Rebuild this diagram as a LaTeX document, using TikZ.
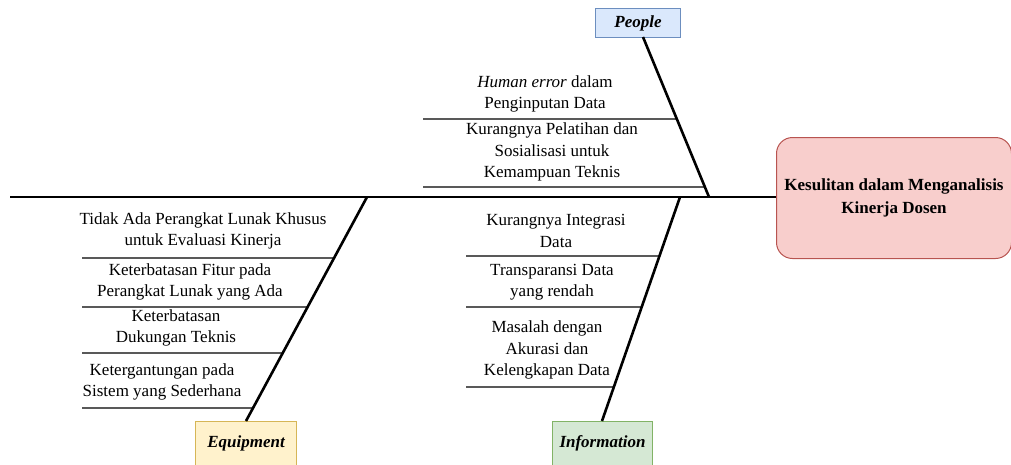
\documentclass[tikz,border=0pt]{standalone}
\usepackage{fontspec}
\setmainfont{Liberation Serif}
\usetikzlibrary{calc}
\definecolor{bluefill}{HTML}{DAE8FC}
\definecolor{bluedraw}{HTML}{6C8EBF}
\definecolor{redfill}{HTML}{F8CECC}
\definecolor{reddraw}{HTML}{B85450}
\definecolor{yelfill}{HTML}{FFF2CC}
\definecolor{yeldraw}{HTML}{D6B656}
\definecolor{grnfill}{HTML}{D5E8D4}
\definecolor{grndraw}{HTML}{82B366}
\tikzset{
  bone/.style={line width=2.6pt, black},
  sub/.style={line width=1.1pt, black},
  cat/.style={draw, line width=1pt, minimum width=#1, inner sep=0pt, font=\fontsize{17}{20}\selectfont\bfseries\itshape},
  lbl/.style={align=center, inner sep=0pt, font=\fontsize{17}{21.5}\selectfont},
}
\begin{document}
\begin{tikzpicture}[x=1pt,y=-1pt]
\useasboundingbox (0,0) rectangle (1011,464);
% effect box
\node[draw=reddraw, fill=redfill, line width=1pt, rounded corners=16pt, minimum width=235pt, minimum height=121pt, anchor=north west, align=center, inner sep=0pt, font=\fontsize{17}{23}\selectfont\bfseries] (eff) at (776,137) {Kesulitan dalam Menganalisis\\Kinerja Dosen};
% spine
\coordinate (tail) at (10,197);
\draw[bone] (tail) -- (eff.west |- 0,197);
% category boxes
\node[cat=85pt, fill=bluefill, draw=bluedraw, minimum height=29pt, anchor=north west] (people) at (595,8) {People};
\node[cat=101pt, fill=yelfill, draw=yeldraw, minimum height=44pt, anchor=north west] (equip) at (195,421) {Equipment};
\node[cat=100pt, fill=grnfill, draw=grndraw, minimum height=44pt, anchor=north west] (info) at (552,421) {Information};
% bones
\coordinate (pt) at (643,37);
\coordinate (pb) at (709,197);
\draw[bone] (pt) -- (pb);
\coordinate (et) at (367,197);
\coordinate (eb) at (246,421);
\draw[bone] (eb) -- (et);
\coordinate (it) at (680,197);
\coordinate (ib) at (602,421);
\draw[bone] (ib) -- (it);
% people sub-lines
\coordinate (ps1) at (423,119);
\coordinate (ps2) at (423,187);
\draw[sub] (ps1) -- (intersection of pt--pb and ps1--{800,119});
\draw[sub] (ps2) -- (intersection of pt--pb and ps2--{800,187});
\node[lbl] (p1) at (545,94) {\textit{Human error} dalam\\Penginputan Data};
\node[lbl] (p2) at (552,152) {Kurangnya Pelatihan dan\\Sosialisasi untuk\\Kemampuan Teknis};
% equipment sub-lines
\coordinate (es1) at (82,258);
\coordinate (es2) at (82,307);
\coordinate (es3) at (82,353);
\coordinate (es4) at (82,408);
\draw[sub] (es1) -- (intersection of et--eb and es1--{500,258});
\draw[sub] (es2) -- (intersection of et--eb and es2--{500,307});
\draw[sub] (es3) -- (intersection of et--eb and es3--{500,353});
\draw[sub] (es4) -- (intersection of et--eb and es4--{500,408});
\node[lbl] (e1) at (203,231) {Tidak Ada Perangkat Lunak Khusus\\untuk Evaluasi Kinerja};
\node[lbl] (e2) at (190,282) {Keterbatasan Fitur pada\\Perangkat Lunak yang Ada};
\node[lbl] (e3) at (176,328) {Keterbatasan\\Dukungan Teknis};
\node[lbl] (e4) at (162,382) {Ketergantungan pada\\Sistem yang Sederhana};
% information sub-lines
\coordinate (is1) at (466,256);
\coordinate (is2) at (466,307);
\coordinate (is3) at (466,387);
\draw[sub] (is1) -- (intersection of it--ib and is1--{900,256});
\draw[sub] (is2) -- (intersection of it--ib and is2--{900,307});
\draw[sub] (is3) -- (intersection of it--ib and is3--{900,387});
\node[lbl] (i1) at (556,231) {Kurangnya Integrasi\\Data};
\node[lbl] (i2) at (552,282) {Transparansi Data\\yang rendah};
\node[lbl] (i3) at (547,350) {Masalah dengan\\Akurasi dan\\Kelengkapan Data};
\end{tikzpicture}
\end{document}
